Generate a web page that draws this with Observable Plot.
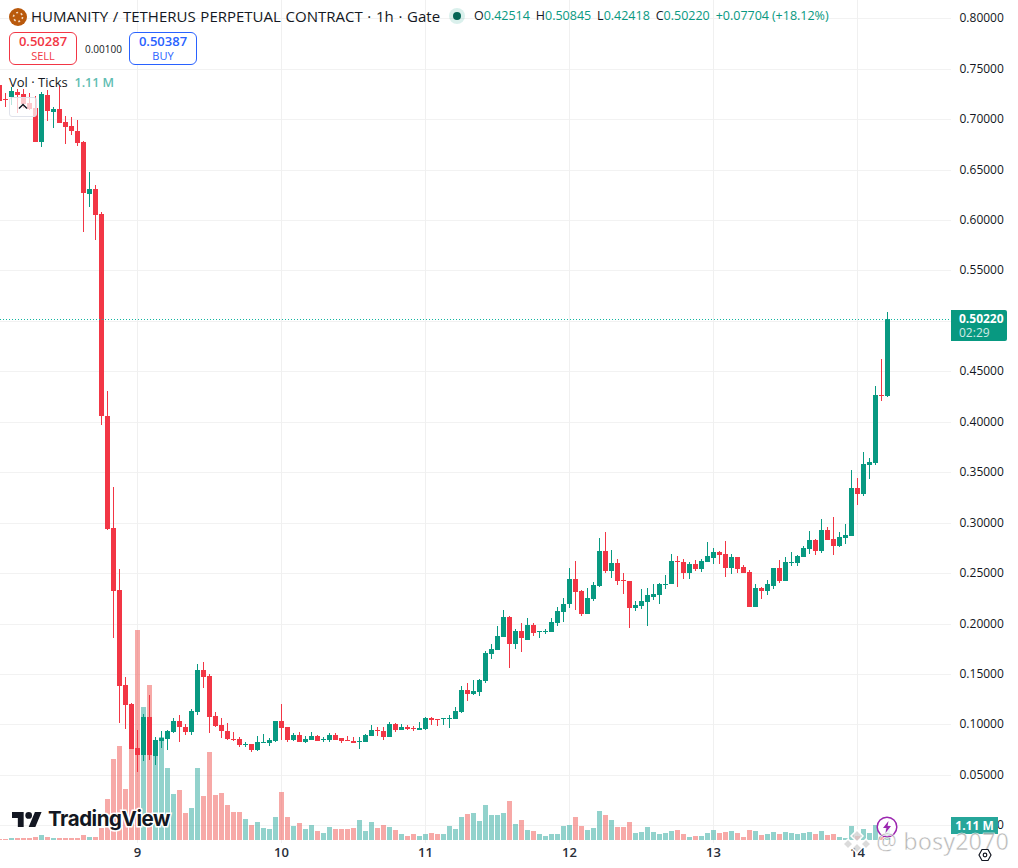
<!DOCTYPE html>
<html>
<head>
<meta charset="utf-8">
<script src="https://cdn.jsdelivr.net/npm/d3@7"></script>
<script src="https://cdn.jsdelivr.net/npm/@observablehq/plot@0.6"></script>
<style>
html,body{margin:0;padding:0;background:#fff;}
#wrap{position:relative;width:1018px;height:868px;overflow:hidden;font-family:"Open Sans",sans-serif;color:#131722;}
#wrap svg{display:block;}
.ov{position:absolute;white-space:nowrap;line-height:1;}
.box{position:absolute;box-sizing:border-box;width:68px;height:33px;border:1px solid;border-radius:6px;text-align:center;background:#fff;}
.box b{display:block;font-weight:600;font-size:13px;line-height:15px;margin-top:1px;}
.box span{display:block;font-size:11px;line-height:13px;}
.g{color:#089981}
</style>
</head>
<body>
<div id="wrap"></div>
<script>
// hours counted from the "9" day boundary; one entry per 1h candle, first = -23
const firstHour = -23;
const open = [.7339,.7199,.7219,.7269,.7249,.7160,.7110,.6773,.7239,.7070,.7100,.6972,.6932,.6883,.6773,.6258,.6308,.6060,.4057,.2947,.2333,.1391,.1202,
.0767,.0697,.1073,.0687,.0836,.0856,.0925,.1034,.0974,.0925,.1123,.1540,.1480,.1083,.0994,.0935,.0856,.0856,.0796,.0806,.0746,.0816,.0816,.0836,
.1034,.0974,.0846,.0895,.0826,.0846,.0886,.0846,.0846,.0895,.0866,.0846,.0836,.0826,.0826,.0886,.0945,.0935,.0876,.1004,.0945,.0974,.0965,.0945,.0955,
.1063,.1054,.1054,.1054,.1054,.1123,.1341,.1302,.1321,.1430,.1698,.1738,.1867,.2064,.1798,.1926,.1837,.1986,.1916,.1916,.1916,.2005,.2114,
.2194,.2442,.2323,.2095,.2243,.2372,.2719,.2521,.2600,.2432,.2422,.2154,.2174,.2214,.2263,.2283,.2382,.2392,.2620,.2610,.2501,.2590,.2541,.2610,
.2650,.2709,.2690,.2551,.2660,.2561,.2511,.2164,.2353,.2323,.2372,.2551,.2422,.2600,.2600,.2660,.2739,.2829,.2719,.2928,.2839,.2769,.2848,.2868,
.3343,.3284,.3571,.3591,.4264,.42514];
const high = [.7339,.7259,.7319,.7299,.7299,.7259,.7229,.7269,.7289,.7120,.7329,.7031,.7021,.6992,.6783,.6476,.6347,.6080,.4305,.3353,.2541,.1470,.1212,
.0945,.1103,.1292,.0875,.0935,.0945,.1063,.1093,.1004,.1153,.1599,.1619,.1500,.1123,.1064,.1014,.0925,.0876,.0826,.0806,.0886,.0905,.0866,.1034,
.1202,.0974,.0915,.0925,.0886,.0925,.0895,.0876,.0915,.0915,.0866,.0886,.0876,.0876,.0905,.0994,.0974,.0974,.1024,.1014,.1004,.0994,.0984,.1024,.1073,
.1073,.1054,.1063,.1093,.1173,.1381,.1411,.1440,.1450,.1728,.1798,.1976,.2135,.2074,.1946,.2006,.2055,.2006,.1926,.1946,.2055,.2164,.2253,
.2551,.2620,.2333,.2353,.2412,.2848,.2908,.2729,.2640,.2501,.2422,.2224,.2343,.2353,.2392,.2402,.2482,.2690,.2670,.2640,.2610,.2630,.2640,.2809,
.2749,.2719,.2819,.2690,.2660,.2581,.2531,.2392,.2363,.2432,.2551,.2630,.2660,.2709,.2680,.2769,.2918,.2839,.3037,.2957,.3057,.2908,.2987,.3522,
.3442,.3700,.3641,.4354,.4622,.50845];
const low = [.7180,.7120,.7140,.7061,.7110,.7090,.6773,.6724,.6982,.6912,.6962,.6754,.6843,.6734,.5881,.6129,.5802,.3968,.2927,.1857,.1014,.0955,.0757,
.0529,.0638,.0648,.0598,.0767,.0746,.0915,.0826,.0895,.0895,.1093,.1361,.0915,.0974,.0866,.0846,.0836,.0777,.0777,.0727,.0736,.0811,.0786,.0826,
.0846,.0826,.0836,.0826,.0816,.0846,.0836,.0826,.0826,.0846,.0816,.0836,.0816,.0757,.0826,.0886,.0886,.0846,.0876,.0925,.0945,.0945,.0935,.0945,.0945,
.0994,.0984,.0994,.0965,.1054,.1113,.1232,.1292,.1282,.1410,.1649,.1738,.1867,.1559,.1748,.1718,.1837,.1877,.1857,.1896,.1916,.1976,.2015,
.2154,.2135,.2075,.2095,.2224,.2362,.2501,.2452,.2382,.2293,.1956,.2125,.2144,.1976,.2234,.2194,.2343,.2392,.2362,.2442,.2442,.2521,.2511,.2610,
.2590,.2590,.2462,.2491,.2501,.2501,.2164,.2164,.2243,.2283,.2343,.2402,.2422,.2570,.2570,.2660,.2690,.2680,.2699,.2829,.2680,.2759,.2789,.2868,
.3176,.3265,.3433,.3571,.4205,.42418];
const close = [.7180,.7190,.7279,.7239,.7150,.7100,.6773,.7249,.7080,.7100,.6962,.6922,.6883,.6763,.6268,.6308,.6050,.4057,.2937,.2323,.1381,.1193,.0757,
.0697,.1073,.0697,.0846,.0866,.0935,.1034,.0974,.0925,.1133,.1540,.1470,.1073,.0984,.0935,.0856,.0846,.0796,.0806,.0746,.0826,.0826,.0846,.1034,
.0965,.0846,.0895,.0826,.0856,.0886,.0836,.0856,.0895,.0846,.0836,.0836,.0816,.0836,.0895,.0945,.0935,.0876,.1004,.0945,.0974,.0955,.0955,.0965,.1063,
.1044,.1044,.1063,.1063,.1133,.1341,.1302,.1331,.1440,.1708,.1748,.1877,.2064,.1798,.1926,.1857,.1986,.1906,.1926,.1926,.2015,.2124,.2194,
.2442,.2313,.2095,.2253,.2382,.2719,.2521,.2600,.2422,.2422,.2154,.2184,.2224,.2283,.2293,.2392,.2392,.2620,.2610,.2501,.2590,.2541,.2620,.2670,
.2709,.2680,.2551,.2660,.2541,.2501,.2164,.2353,.2323,.2392,.2551,.2422,.2610,.2610,.2670,.2749,.2829,.2719,.2928,.2829,.2769,.2858,.2878,.3343,
.3284,.3581,.3601,.4264,.4254,.50220];
// volume in millions of ticks
const volume = [.10,.07,.15,.15,.15,.15,.22,.37,.22,.15,.15,.15,.15,.15,.37,.22,.22,.89,3.03,5.99,6.96,3.77,6.73,
15.54,9.84,11.47,7.03,7.62,5.33,3.40,3.70,2.00,2.37,5.33,3.26,6.51,3.33,3.48,2.59,2.07,2.07,1.55,1.11,1.33,.89,.81,1.70,
3.55,1.70,1.04,1.26,.81,1.11,.67,.52,.96,.81,.81,.81,.89,1.48,.67,1.33,.89,1.11,.96,.74,.44,.30,.44,.30,.44,
.52,.44,.44,1.04,.81,1.70,1.92,2.00,1.41,2.59,1.85,1.85,2.00,2.89,1.18,1.48,.74,.67,.44,.30,.44,.44,1.04,
1.11,1.70,1.04,.74,.89,2.15,1.85,1.48,.96,.96,1.33,.52,.59,.96,.59,.44,.52,.67,.74,.44,.22,.30,.30,.52,
.74,.52,.59,.67,.52,.22,.74,.67,.37,.44,.59,.44,.59,.52,.44,.52,.59,.44,.67,.37,.44,.22,.15,1.04,
.30,.81,.52,1.11,.22,1.11];
const priceTicks = [0,.05,.10,.15,.20,.25,.30,.35,.40,.45,.50,.55,.60,.65,.70,.75,.80];
const dayHours = [0,24,48,72,96,120];
const dayLabels = ["9","10","11","12","13","14"];
const lastPrice = 0.50220;

const UP = "#089981", DOWN = "#F23645";
const candles = open.map((o,i)=>({h:firstHour+i,o,hi:high[i],lo:low[i],c:close[i],v:volume[i],up:close[i]>=o}));
// The volume pane shares the frame with price: it is projected onto the price axis.
const volBase = -0.01457, volToPrice = 0.013395;
const chart = Plot.plot({
  width:1018, height:868, marginLeft:0, marginRight:67, marginTop:0, marginBottom:25,
  style:{background:"transparent",fontFamily:'"Open Sans",sans-serif',fontSize:"12px",color:"#131722",overflow:"hidden"},
  x:{type:"linear",domain:[-137/6,(951-137)/6],axis:null},
  y:{domain:[-0.01755,0.8181],axis:null,round:true},
  marks:[
    Plot.ruleY(priceTicks,{stroke:"#f2f2f2"}),
    Plot.ruleX(dayHours,{stroke:"#f0f0f0"}),
    Plot.ruleX(candles,{x:"h",y1:()=>volBase,y2:d=>volBase+d.v*volToPrice,stroke:d=>d.up?"#26a69a":"#ef5350",strokeOpacity:.5,strokeWidth:5}),
    Plot.ruleX(candles,{x:"h",y1:"lo",y2:"hi",stroke:d=>d.up?UP:DOWN,strokeWidth:1}),
    Plot.ruleX(candles,{x:"h",y1:"o",y2:"c",stroke:d=>d.up?UP:DOWN,strokeWidth:5}),
    Plot.ruleY([lastPrice],{stroke:"#12b5a0",strokeDasharray:"1,2"}),
    Plot.axisY(priceTicks,{anchor:"right",tickSize:0,tickPadding:8,tickFormat:d3.format(".5f"),label:null,fill:"#131722"}),
    Plot.axisX(dayHours,{anchor:"bottom",tickSize:0,tickPadding:4,tickFormat:h=>dayLabels[dayHours.indexOf(h)],label:null,fontWeight:600,fontSize:13,fill:"#2a2e39"})
  ]
});
const wrap = document.getElementById("wrap");
wrap.appendChild(chart);
const ov = document.createElement("div");
ov.innerHTML = `
<svg class="ov" style="left:9px;top:8px" width="18" height="18" viewBox="0 0 18 18"><circle cx="9" cy="9" r="9" fill="#b9590c"/><circle cx="9" cy="9" r="4.5" fill="none" stroke="#f3d9c0" stroke-width="1.6" stroke-dasharray="2 2.7"/></svg>
<div class="ov" style="left:31px;top:9px;font-size:15px;word-spacing:.8px">HUMANITY / TETHERUS PERPETUAL CONTRACT · 1h · Gate</div>
<svg class="ov" style="left:448px;top:7px" width="18" height="18"><circle cx="9" cy="9" r="8" fill="#089981" fill-opacity=".15"/><circle cx="9" cy="9" r="4" fill="#056656"/></svg>
<div class="ov" style="left:474px;top:10px;font-size:12.5px;word-spacing:-.3px">O<span class="g">0.42514</span>&nbsp; H<span class="g">0.50845</span>&nbsp; L<span class="g">0.42418</span>&nbsp; C<span class="g">0.50220</span>&nbsp; <span class="g">+0.07704 (+18.12%)</span></div>
<div class="box" style="left:9px;top:32px;border-color:#f23645;color:#f23645"><b>0.50287</b><span>SELL</span></div>
<div class="ov" style="left:85px;top:44px;font-size:10px">0.00100</div>
<div class="box" style="left:129px;top:32px;border-color:#2962ff;color:#2962ff"><b>0.50387</b><span>BUY</span></div>
<div class="ov" style="left:9px;top:76px;font-size:13px">Vol · Ticks &nbsp;<span style="color:#5fbdb2;font-weight:600;font-size:12.5px">1.11 M</span></div>
<div class="ov" style="left:9px;top:97px;width:28px;height:20px;box-sizing:border-box;border:1px solid #e0e3eb;border-radius:3px;background:rgba(255,255,255,.72)"><svg width="26" height="18"><path d="M9 10.5L13 6.5L17 10.5" fill="none" stroke="#131722" stroke-width="1.4"/></svg></div>
<div class="ov" style="left:951px;top:310px;width:56px;height:31px;box-sizing:border-box;padding-left:8px;background:#089981;color:#fff;border-radius:0 2px 2px 0"><div style="font-size:12px;font-weight:700;margin-top:3px">0.50220</div><div style="font-size:12px;opacity:.8;margin-top:2px">02:29</div></div>
<div class="ov" style="left:951px;top:817px;width:47px;height:17px;background:#26a69a;color:#fff;text-align:center;font-size:12px;font-weight:700;line-height:17px">1.11 M</div>
<svg class="ov" style="left:12px;top:811px" width="30" height="18" viewBox="0 4 36 19"><path d="M14 22H7V11H0V4h14v18zM28 22h-8l7.5-18h8L28 22z" fill="#131722"/><circle cx="20" cy="8" r="4" fill="#131722"/></svg>
<div class="ov" style="left:48px;top:809px;font-family:Inter,sans-serif;font-weight:700;font-size:20.5px;letter-spacing:-.45px;color:#131722;-webkit-text-stroke:3px #fff;paint-order:stroke fill">TradingView</div>
<svg class="ov" style="left:876px;top:816px" width="22" height="22"><circle cx="11" cy="11" r="9.8" fill="#fff" fill-opacity=".8" stroke="#9c27b0" stroke-width="1.5"/><path d="M12.5 5L7 12h3.4L9.5 17l5.5-7h-3.4z" fill="#9c27b0"/></svg>
<svg class="ov" style="left:840px;top:829px" width="34" height="28"><g fill="#cfcfcf" fill-opacity=".75" stroke="#fff" stroke-width="1.5"><path d="M17 1l6 6-6 6-6-6z"/><path d="M8 10l5 5-5 5-5-5z"/><path d="M26 10l5 5-5 5-5-5z"/><path d="M17 14l5 5-5 5-5-5z"/></g></svg>
<div class="ov" style="left:876px;top:830px;font-family:'Noto Sans',sans-serif;font-size:23.5px;color:rgba(125,125,125,.55);-webkit-text-stroke:.5px #fff">@ bosy2070</div>
<svg class="ov" style="left:976px;top:846px" width="18" height="18"><path d="M3 9L6 3.5h6L15 9L12 14.5H6z" fill="none" stroke="#131722" stroke-width="1.2"/><circle cx="9" cy="9" r="1.8" fill="none" stroke="#131722" stroke-width="1.2"/></svg>
`;
while(ov.firstElementChild) wrap.appendChild(ov.firstElementChild);
</script>
</body>
</html>
